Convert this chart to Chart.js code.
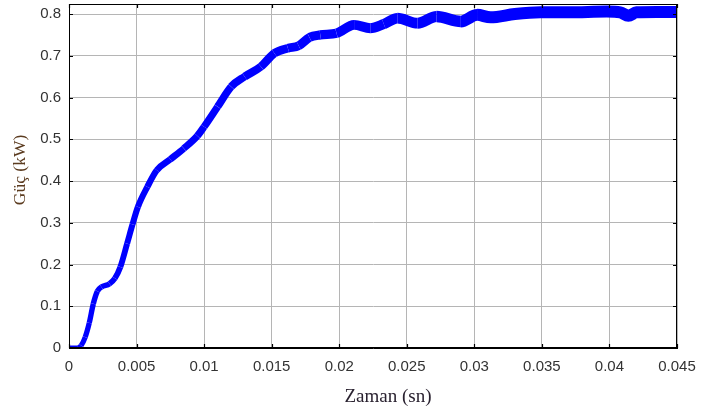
<!DOCTYPE html>
<html>
<head>
<meta charset="utf-8">
<script src="https://cdn.jsdelivr.net/npm/chart.js@4.4.0/dist/chart.umd.min.js"></script>
<style>
html,body{margin:0;padding:0;background:#fff;}
canvas{display:block;}
</style>
</head>
<body>
<canvas id="c" width="722" height="409"></canvas>
<script>
const timeSec = [0, 0.0006, 0.0009, 0.0012, 0.0015, 0.0018, 0.0021, 0.0024, 0.0030, 0.0034, 0.0038, 0.0043, 0.0047, 0.0051, 0.0058, 0.0065, 0.0075, 0.0085, 0.0095, 0.0100, 0.0110, 0.0120, 0.0130, 0.0142, 0.0152, 0.0162, 0.0170, 0.0178, 0.0186, 0.0198, 0.0211, 0.0223, 0.0233, 0.0243, 0.0258, 0.0272, 0.0290, 0.0302, 0.0312, 0.0330, 0.0349, 0.0370, 0.0398, 0.0408, 0.0414, 0.0420, 0.0435, 0.0450];
const powerKW = [0, 0, 0.006, 0.026, 0.060, 0.106, 0.136, 0.146, 0.154, 0.167, 0.194, 0.250, 0.296, 0.338, 0.386, 0.426, 0.452, 0.478, 0.508, 0.530, 0.578, 0.626, 0.650, 0.674, 0.706, 0.718, 0.724, 0.744, 0.750, 0.754, 0.774, 0.766, 0.776, 0.790, 0.778, 0.794, 0.782, 0.798, 0.792, 0.800, 0.804, 0.804, 0.806, 0.804, 0.796, 0.804, 0.805, 0.805];
const xTickValues = [0, 0.005, 0.01, 0.015, 0.02, 0.025, 0.03, 0.035, 0.04, 0.045];
const xTickLabels = ['0', '0.005', '0.01', '0.015', '0.02', '0.025', '0.03', '0.035', '0.04', '0.045'];
const yTickValues = [0, 0.1, 0.2, 0.3, 0.4, 0.5, 0.6, 0.7, 0.8];
const yTickLabels = ['0', '0.1', '0.2', '0.3', '0.4', '0.5', '0.6', '0.7', '0.8'];
const xTitle = 'Zaman (sn)';
const yTitle = 'Güç (kW)';

const points = timeSec.map((t, i) => ({x: t, y: powerKW[i]}));

const framePlugin = {
  id: 'frame',
  afterDraw(chart) {
    const {ctx, chartArea: a, scales} = chart;
    ctx.save();
    ctx.strokeStyle = '#000';
    ctx.lineWidth = 1;
    ctx.strokeRect(a.left + 0.5, a.top + 0.5, a.right - a.left - 1, a.bottom - a.top - 1);
    ctx.lineWidth = 1.2;
    const tl = 4;
    scales.x.ticks.forEach(t => {
      const px = Math.round(scales.x.getPixelForValue(t.value)) + 0.5;
      ctx.beginPath();
      ctx.moveTo(px, a.bottom); ctx.lineTo(px, a.bottom - tl);
      ctx.moveTo(px, a.top); ctx.lineTo(px, a.top + tl);
      ctx.stroke();
    });
    scales.y.ticks.forEach(t => {
      const py = Math.round(scales.y.getPixelForValue(t.value)) + 0.5;
      ctx.beginPath();
      ctx.moveTo(a.left, py); ctx.lineTo(a.left + tl, py);
      ctx.moveTo(a.right, py); ctx.lineTo(a.right - tl, py);
      ctx.stroke();
    });
    ctx.font = '19px "Liberation Serif", "Times New Roman", serif';
    ctx.fillStyle = '#2a2230';
    ctx.textAlign = 'center';
    ctx.textBaseline = 'middle';
    ctx.fillText(xTitle, 388, 397);
    ctx.translate(20, 170);
    ctx.rotate(-Math.PI / 2);
    ctx.font = '17.5px "Liberation Serif", "Times New Roman", serif';
    ctx.fillStyle = '#5b3b1f';
    ctx.fillText(yTitle, 0, 0);
    ctx.restore();
  }
};

new Chart(document.getElementById('c'), {
  type: 'line',
  data: {
    datasets: [{
      data: points,
      borderColor: '#0000ff',
      borderWidth: 6,
      pointRadius: 0,
      cubicInterpolationMode: 'monotone',
      fill: false,
      segment: {
        borderWidth: ctx => 5 + 7 * Math.min(1, ctx.p0.parsed.x / 0.03)
      }
    }]
  },
  options: {
    responsive: false,
    maintainAspectRatio: false,
    animation: false,
    layout: {padding: {top: 4, right: 45, left: 0, bottom: 0}},
    plugins: {legend: {display: false}, tooltip: {enabled: false}},
    scales: {
      x: {
        type: 'linear',
        min: 0, max: 0.045,
        afterBuildTicks(s) { s.ticks = xTickValues.map(v => ({value: v})); },
        afterFit(s) { s.height = 61; s.paddingRight = 0; s.paddingLeft = 0; },
        ticks: {
          padding: 10,
          color: '#333',
          font: {family: '"Liberation Sans", Arial, sans-serif', size: 15},
          maxRotation: 0,
          autoSkip: false,
          callback: (v, i) => xTickLabels[i]
        },
        grid: {color: '#b5b5b5', lineWidth: 1, drawTicks: false},
        border: {display: true, color: '#000'}
      },
      y: {
        type: 'linear',
        min: 0, max: 0.824,
        afterBuildTicks(s) { s.ticks = yTickValues.map(v => ({value: v})); },
        afterFit(s) { s.width = 69; s.paddingTop = 0; s.paddingBottom = 0; },
        ticks: {
          padding: 8,
          color: '#333',
          autoSkip: false,
          font: {family: '"Liberation Sans", Arial, sans-serif', size: 15},
          callback: (v, i) => yTickLabels[i]
        },
        grid: {color: '#b5b5b5', lineWidth: 1, drawTicks: false},
        border: {display: true, color: '#000'}
      }
    }
  },
  plugins: [framePlugin]
});
</script>
</body>
</html>
